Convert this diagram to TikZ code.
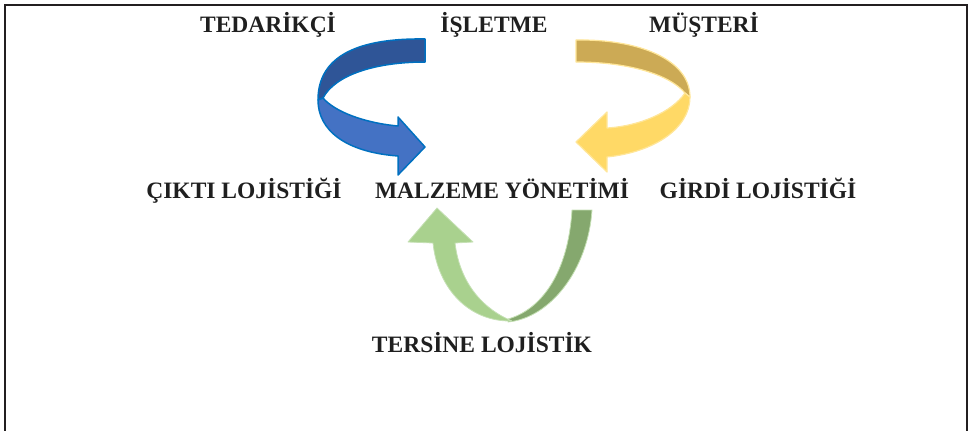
\documentclass[tikz,border=0pt]{standalone}
\usepackage{fontspec}
\setmainfont{Liberation Serif}
\usetikzlibrary{positioning}
\definecolor{frameline}{RGB}{35,31,32}
\definecolor{blueback}{RGB}{47,85,151}
\definecolor{bluefront}{RGB}{68,114,196}
\definecolor{blueedge}{RGB}{0,112,192}
\definecolor{yellowback}{RGB}{204,170,85}
\definecolor{yellowfront}{RGB}{255,217,102}
\definecolor{yellowedge}{RGB}{255,230,153}
\definecolor{greenback}{RGB}{133,168,110}
\definecolor{greenfront}{RGB}{169,209,142}
\definecolor{greenedge}{RGB}{197,224,180}

\begin{document}
\begin{tikzpicture}[x=1pt,y=-1pt,
  lbl/.style={font=\fontsize{23.5}{28}\selectfont\bfseries,text=black!88,anchor=base,inner sep=0pt},
  bluepart/.style={draw=blueedge,line width=1.5pt,line join=round},
  yellowpart/.style={draw=yellowedge,line width=1.2pt,line join=round},
  greenpart/.style={draw=greenedge,line width=0.8pt,line join=round}]
  \useasboundingbox (0,0) rectangle (972,431);
  % frame, open at the bottom
  \draw[frameline,line width=1.6pt] (5,431) -- (5,5) -- (967,5) -- (967,431);
  % labels
  \node[lbl](tedarikci) at (268,32){TEDARİKÇİ};
  \node[lbl](isletme) at (494,32){İŞLETME};
  \node[lbl](musteri) at (704,32){MÜŞTERİ};
  \node[lbl](cikti) at (244,198.5){ÇIKTI LOJİSTİĞİ};
  \node[lbl](malzeme) at (502,198.5){MALZEME YÖNETİMİ};
  \node[lbl](girdi) at (758,198.5){GİRDİ LOJİSTİĞİ};
  \node[lbl](tersine) at (482,352){TERSİNE LOJİSTİK};
  % blue arrow: isletme -> malzeme
  \fill[bluepart,fill=blueback] (425,39) .. controls (360,38) and (318,55) .. (318,100)
    -- (323,98) .. controls (335,75) and (375,62) .. (425,62) -- cycle;
  \fill[bluepart,fill=bluefront] (318,100) .. controls (318,130) and (345,152) .. (398,156)
    -- (398,175) -- (425,147) -- (398,117) -- (398,126)
    .. controls (365,123) and (335,112) .. (323,98) -- cycle;
  % yellow arrow: musteri -> malzeme
  \fill[yellowpart,fill=yellowback] (576,40) .. controls (640,39) and (690,60) .. (690,97)
    -- (685,93) .. controls (670,75) and (630,62) .. (576,62) -- cycle;
  \fill[yellowpart,fill=yellowfront] (690,97) .. controls (690,128) and (655,152) .. (607,157)
    -- (607,172) -- (576,142) -- (607,112) -- (607,128)
    .. controls (640,126) and (672,112) .. (685,93) -- cycle;
  % green arrow: tersine loop
  \fill[greenpart,fill=greenback] (508,322) .. controls (550,318) and (588,270) .. (592,210)
    -- (572,210) .. controls (568,275) and (540,310) .. (508,319) -- cycle;
  \fill[greenpart,fill=greenfront] (433,243) .. controls (438,290) and (470,322) .. (512,321)
    .. controls (485,310) and (460,285) .. (455,243)
    -- (473,242) -- (437,208) -- (408,242) -- cycle;
\end{tikzpicture}
\end{document}
